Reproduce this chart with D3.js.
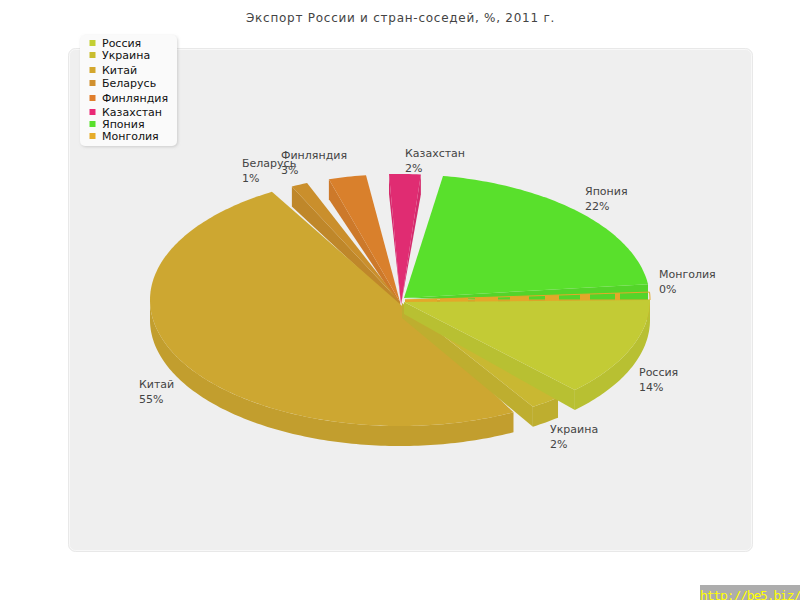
<!DOCTYPE html>
<html lang="ru">
<head>
<meta charset="utf-8">
<script src="https://cdn.jsdelivr.net/npm/d3@7/dist/d3.min.js"></script>
<style>html,body{margin:0;padding:0;background:#fff;overflow:hidden}svg{display:block}</style>
</head>
<body>
<svg id="c" width="800" height="600"></svg>
<script>
// ---- data ----
const titleText = "Экспорт России и стран-соседей, %, 2011 г.";
const categories = ["Россия","Украина","Китай","Беларусь","Финляндия","Казахстан","Япония","Монголия"];
const percentLabels = [14,2,55,1,3,2,22,0];
// share of the full turn each wedge occupies as drawn, and the empty gap after it (percent of circle)
const drawnShares = [12.67,1.97,48.94,1.06,2.42,2.03,20.25,1.0];
const gapShares   = [1.44,1.42,1.44,1.47,1.47,1.42,1.0,0];
const colors = ["#c3cb35","#c9b832","#cda731","#ca8f2c","#d9802c","#e02c72","#59e02c","#e3a82a"];
const legendColors = ["#c3cf33","#c9bd2f","#d4a72d","#d0902e","#e07e2c","#ea2a76","#59e02c","#e6ac2a"];

// ---- layout ----
const W = 800, H = 600, depth = 20;
const x = d3.scaleLinear().domain([-1,1]).range([150,650]);
const y = d3.scaleLinear().domain([-1,1]).range([174,426]);
const apexOffset = [[4,2],[2,3],[0,4],[0,2],[0,2],[1,5],[4,-2],[5,0]];
const apexDepth = [12,15,0,5,4,0,0,0];
const labelPos = [[639,376],[550,433],[139,388],[242,167],[281,159],[405,157],[585,195],[659,278]];
const legendRowY = [43,55,70,83,98,112,124,136];
const paintOrder = [6,7,5,4,3,2,1,0];
const fontFam = '"DejaVu Sans", sans-serif';

const svg = d3.select("#c");
const defs = svg.append("defs");
const f = defs.append("filter").attr("id","sh").attr("x","-10%").attr("y","-10%").attr("width","125%").attr("height","125%");
f.append("feDropShadow").attr("dx",1).attr("dy",1).attr("stdDeviation",1.5).attr("flood-color","#888").attr("flood-opacity",.35);

svg.append("rect").attr("width",W).attr("height",H).attr("fill","#fff");
svg.append("rect").attr("x",68.5).attr("y",48.5).attr("width",684).attr("height",503).attr("rx",7)
   .attr("fill","#efefef").attr("stroke","#e8e8e8").attr("stroke-width",1);
svg.append("rect").attr("x",69.5).attr("y",49.5).attr("width",682).attr("height",501).attr("rx",6)
   .attr("fill","none").attr("stroke","#f8f8f8").attr("stroke-width",1);

svg.append("text").attr("x",400.5).attr("y",22).attr("text-anchor","middle")
   .attr("font-family",fontFam).attr("font-size",12).attr("fill","#444").attr("letter-spacing",".74px").text(titleText);

// ---- pie geometry through d3.pie ----
const flat = [];
drawnShares.forEach((v,i)=>{flat.push({i,v}); flat.push({i:-1,v:gapShares[i]});});
const arcs = d3.pie().sort(null).value(d=>d.v).startAngle(0).endAngle(2*Math.PI)(flat)
  .filter(a=>a.data.i>=0)
  .map(a=>({i:a.data.i,t0:a.startAngle,t1:a.endAngle}));
const byIndex = d3.index(arcs,a=>a.i);
const rim = t=>[x(Math.cos(t)),y(Math.sin(t))];
const arcPts = (t0,t1,dz=0)=>{
  const n = Math.max(2,Math.ceil((t1-t0)*60));
  return d3.range(n+1).map(k=>{const p=rim(t0+(t1-t0)*k/n);return [p[0],p[1]+dz];});
};
const line = d3.line();
const apex = i=>[x(0)+apexOffset[i][0],y(0)+apexOffset[i][1]];
const pl = svg.append("g");

function wall(g,i,t,col){
  const a = apex(i), p = rim(t);
  g.append("path").attr("d",line([a,p,[p[0],p[1]+depth],[a[0],a[1]+apexDepth[i]]])+"Z").attr("fill",col);
}
paintOrder.forEach(i=>{
  const s = byIndex.get(i), g = pl.append("g"), c = colors[i];
  const dark = d3.rgb(c).darker(.16).formatHex();
  // side walls that face the viewer
  if (Math.sin(s.t0-Math.PI/2)>0) wall(g,i,s.t0,dark);
  if (Math.sin(s.t1+Math.PI/2)>0) wall(g,i,s.t1,dark);
  // outer wall, front half only
  const a0 = Math.max(s.t0,0), a1 = Math.min(s.t1,Math.PI);
  if (a1>a0) {
    const top = arcPts(a0,a1), bot = arcPts(a0,a1,depth).reverse();
    g.append("path").attr("d",line(top.concat(bot))+"Z").attr("fill",dark);
  }
  if (i===7) {
    // very thin slice: outline, with the wall behind showing through in bands
    const wedge = [apex(i)].concat(arcPts(s.t0,s.t1));
    const band = wedge.concat([[x(1),y(0)+2],[apex(i)[0],y(0)+2]]);
    defs.append("clipPath").attr("id","mon").append("path").attr("d",line(band)+"Z");
    g.append("path").attr("d",line(wedge)+"Z").attr("fill","none").attr("stroke",c).attr("stroke-width",1);
    g.append("line").attr("x1",x(0)+5).attr("x2",x(1)).attr("y1",y(0)-2).attr("y2",y(0)-2)
      .attr("stroke",c).attr("stroke-width",12).attr("clip-path","url(#mon)")
      .attr("stroke-dasharray","32 3 28 7 23 12 19 16 14 21 10 25 5 30");
  } else {
    g.append("path").attr("d",line([apex(i)].concat(arcPts(s.t0,s.t1)))+"Z").attr("fill",c);
  }
});

// ---- labels ----
const lab = svg.append("g").attr("font-family",fontFam).attr("font-size",11).attr("fill","#444");
categories.forEach((n,i)=>{
  lab.append("text").attr("x",labelPos[i][0]).attr("y",labelPos[i][1]).text(n);
  lab.append("text").attr("x",labelPos[i][0]).attr("y",labelPos[i][1]+15).text(percentLabels[i]+"%");
});

// ---- legend ----
svg.append("rect").attr("x",80).attr("y",35).attr("width",97).attr("height",111).attr("rx",5)
   .attr("fill","#fafafa").attr("filter","url(#sh)");
const lg = svg.append("g").attr("font-family",fontFam).attr("font-size",11).attr("fill","#111");
categories.forEach((n,i)=>{
  lg.append("rect").attr("x",89.5).attr("y",legendRowY[i]-3).attr("width",6).attr("height",6).attr("fill",legendColors[i]);
  lg.append("text").attr("x",102).attr("y",legendRowY[i]+4).text(n);
});

// ---- watermark ----
svg.append("rect").attr("x",700).attr("y",585).attr("width",100).attr("height",15).attr("fill","#adadad");
svg.append("text").attr("x",700).attr("y",600).attr("font-family",'"DejaVu Sans Mono", monospace').attr("font-size",13)
   .attr("letter-spacing","-1.15px").attr("fill","#ffff00").text("http://be5.biz/");
</script>
</body>
</html>
